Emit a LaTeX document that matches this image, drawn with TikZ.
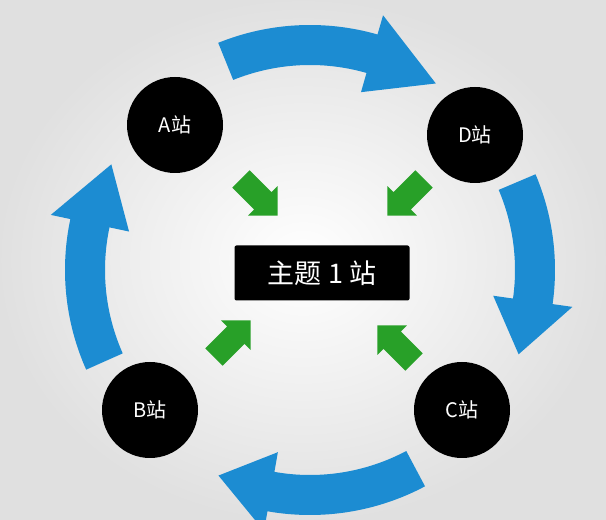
\documentclass[tikz,border=0pt]{standalone}
\usepackage{fontspec}
\newfontfamily\cjk{Noto Sans CJK SC}
\usetikzlibrary{positioning,shapes.arrows}
\definecolor{flowblue}{RGB}{28,140,210}
\definecolor{pushgreen}{RGB}{40,160,40}
\tikzset{
  station/.style={circle,fill=black,minimum size=96pt,text=white,font=\cjk\fontsize{20}{24}\selectfont},
  topic/.style={rectangle,fill=black,rounded corners=2pt,minimum width=175pt,minimum height=55pt,text=white,font=\cjk\fontsize{27}{30}\selectfont},
  push/.style={single arrow,fill=pushgreen,minimum height=52pt,minimum width=42pt,single arrow head extend=8pt,inner xsep=0pt,inner ysep=11pt}
}
% blue band arrow: start angle, head base angle, tip angle
\newcommand{\flowarrow}[3]{%
  \fill[flowblue,shift={(310,250)}] (#1:245) arc[start angle=#1,end angle=#2,radius=245]
    -- (#2:265) -- (#3:225) -- (#2:185) -- (#2:205)
    arc[start angle=#2,end angle=#1,radius=205] -- cycle;}
\begin{document}
\begin{tikzpicture}[x=1pt,y=1pt]
  \shade[inner color=white,outer color=black!12] (0,0) rectangle (606,520);
  \useasboundingbox (0,0) rectangle (606,520);
  %% blue ring
  \flowarrow{112}{74}{56}
  \flowarrow{23}{-8}{-22}
  \flowarrow{-62}{-100}{-114}
  \flowarrow{204}{168}{152}
  %% stations
  \node[station] (A) at (175,395) {A站};
  \node[station] (D) at (475,385) {D站};
  \node[station] (B) at (150,110) {B站};
  \node[station] (C) at (462,110) {C站};
  \node[topic] (T) at (322,247) {主题 1 站};
  %% green pushes
  \node[push,rotate=-45] (pa) at (255,327) {};
  \node[push,rotate=225] (pd) at (410,327) {};
  \node[push,rotate=45] (pb) at (228,177) {};
  \node[push,rotate=135] (pc) at (400,172) {};
\end{tikzpicture}
\end{document}
